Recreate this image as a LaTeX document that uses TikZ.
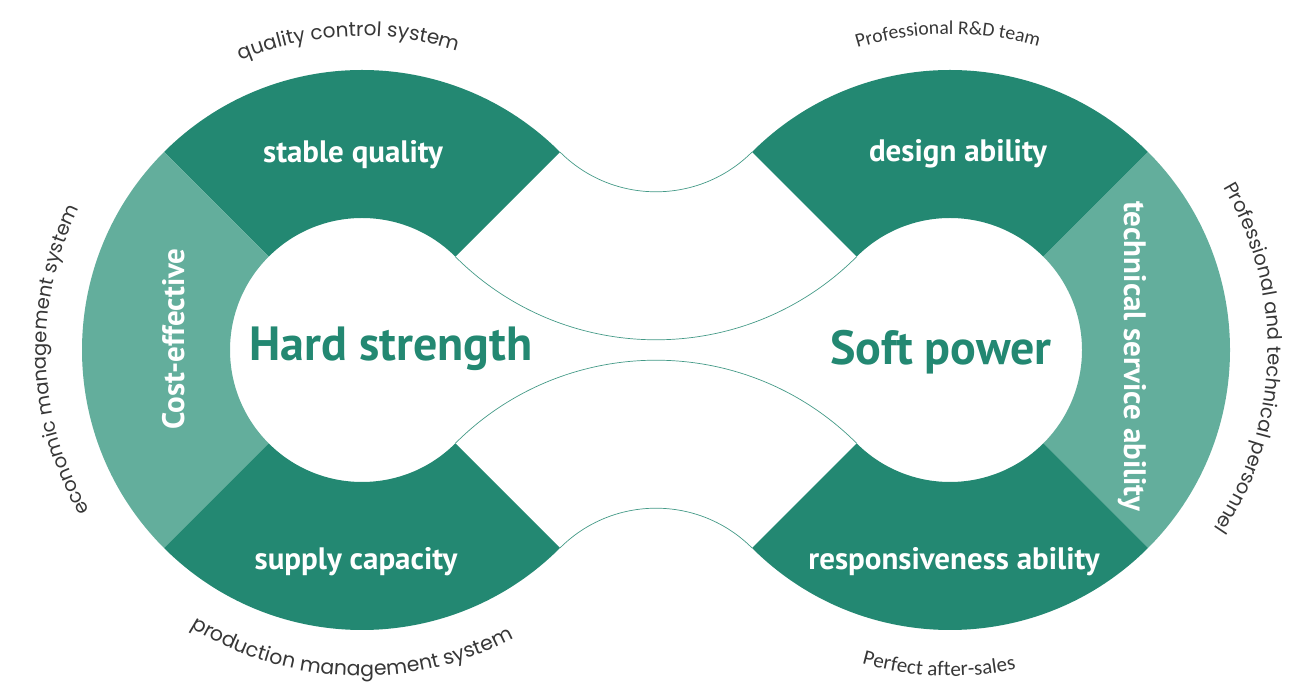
\documentclass[tikz,border=0pt]{standalone}
\usepackage{fontspec}
\setmainfont{PT Sans}
\newfontfamily\labfont{PT Sans}
\newfontfamily\arcfont{Poppins}
\newfontfamily\arcfontb{Carlito}
\usetikzlibrary{calc,decorations.text}
\definecolor{dkgreen}{RGB}{35,136,114}
\definecolor{ltgreen}{RGB}{99,174,156}
\definecolor{txtgray}{RGB}{55,55,55}
\newcommand\ringsector[4]{%
  \fill[#4] ($(#1)+(#2:280)$) arc[start angle=#2,end angle=#3,radius=280]
    -- ($(#1)+(#3:132)$) arc[start angle=#3,end angle=#2,radius=132] -- cycle;}
\begin{document}
\begin{tikzpicture}[x=1pt,y=1pt,
  segdark/.style={fill=dkgreen},
  seglight/.style={fill=ltgreen},
  link/.style={draw=dkgreen!85,line width=0.7pt},
  seglabel/.style={text=white,font=\labfont\bfseries\fontsize{31}{31}\selectfont,inner sep=0pt},
  biglabel/.style={text=dkgreen,font=\labfont\bfseries\fontsize{48}{48}\selectfont,inner sep=0pt},
]
\useasboundingbox (0,0) rectangle (1307,683);
\coordinate (L) at (362,333);
\coordinate (R) at (950,333);
\coordinate (T) at (656,627);
\coordinate (B) at (656,39);
% rings
\ringsector{L}{45}{135}{segdark}
\ringsector{L}{135}{225}{seglight}
\ringsector{L}{225}{315}{segdark}
\ringsector{R}{45}{135}{segdark}
\ringsector{R}{-45}{45}{seglight}
\ringsector{R}{225}{315}{segdark}
% connectors
\draw[link] ($(T)+(225:135.8)$) arc[start angle=225,end angle=315,radius=135.8];
\draw[link] ($(T)+(225:283.8)$) arc[start angle=225,end angle=315,radius=283.8];
\draw[link] ($(B)+(45:135.8)$) arc[start angle=45,end angle=135,radius=135.8];
\draw[link] ($(B)+(45:283.8)$) arc[start angle=45,end angle=135,radius=283.8];
% segment labels
\node[seglabel,anchor=base] (sq) at (353,520) {stable quality};
\node[seglabel,anchor=base] (sc) at (356,113) {supply capacity};
\node[seglabel,anchor=base,rotate=90] (ce) at (184,344) {Cost-effective};
\node[seglabel,anchor=base] (da) at (958,521) {design ability};
\node[seglabel,anchor=base] (ra) at (954,113) {responsiveness ability};
\node[seglabel,anchor=base,rotate=-90] (ts) at (1124,327) {technical service ability};
\node[biglabel,anchor=base] (hs) at (391,322) {Hard strength};
\node[biglabel,anchor=base] (sp) at (941,318) {Soft power};
% outer arc labels
\path[decorate,decoration={text along path,text align=center,text color=txtgray,
  text={|\arcfont\fontsize{20}{20}\selectfont|quality control system}}]
  ($(L)+(132.5:314)$) arc[start angle=132.5,end angle=52.5,radius=314];
\path[decorate,decoration={text along path,text align=center,text color=txtgray,
  text={|\arcfont\fontsize{19.5}{19.5}\selectfont|economic management system}}]
  ($(L)+(222:316)$) arc[start angle=222,end angle=142,radius=316];
\path[decorate,decoration={text along path,text align=center,text color=txtgray,
  text={|\arcfont\fontsize{20.4}{20.4}\selectfont|production management system}}]
  ($(L)+(228:326)$) arc[start angle=228,end angle=308,radius=326];
\path[decorate,decoration={text along path,text align=center,text color=txtgray,
  text={|\arcfontb\fontsize{19.6}{19.6}\selectfont|Professional R{\&}D team}}]
  ($(R)+(130.4:316)$) arc[start angle=130.4,end angle=50.4,radius=316];
\path[decorate,decoration={text along path,text align=center,text color=txtgray,
  text={|\arcfont\fontsize{19.5}{19.5}\selectfont|Professional and technical personnel}}]
  ($(R)+(43.4:318)$) arc[start angle=43.4,end angle=-46.6,radius=318];
\path[decorate,decoration={text along path,text align=center,text color=txtgray,
  text={|\arcfontb\fontsize{21}{21}\selectfont|Perfect after-sales}}]
  ($(R)+(233:326)$) arc[start angle=233,end angle=303,radius=326];
\end{tikzpicture}
\end{document}
